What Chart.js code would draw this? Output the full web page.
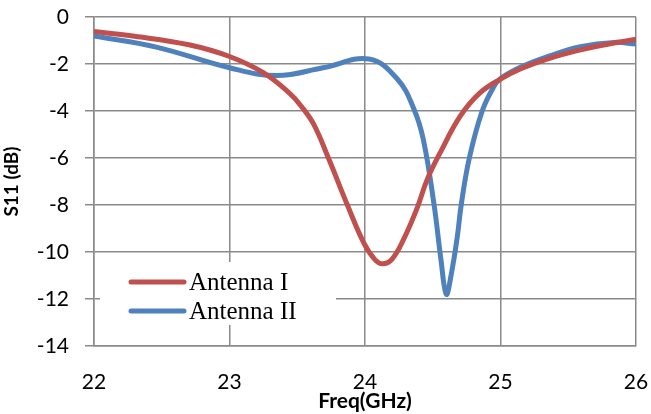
<!DOCTYPE html>
<html>
<head>
<meta charset="utf-8">
<script src="https://cdn.jsdelivr.net/npm/chart.js@4.4.1/dist/chart.umd.min.js"></script>
<style>
    html, body { margin: 0; padding: 0; background: #fff; }
    #chartS11 { display: block; }
</style>
</head>
<body>
<canvas id="chartS11" width="651" height="414"></canvas>
<script>
// ===== DATOS =====
const freqAntenaI = [22.0, 22.3, 22.7, 23.0, 23.25, 23.45, 23.53, 23.62, 23.73, 23.87, 23.99, 24.07, 24.13, 24.2, 24.29, 24.38, 24.46, 24.557, 24.705, 24.85, 25.0, 25.15, 25.35, 25.59, 25.8, 26.0];
const s11AntenaI  = [-0.62, -0.82, -1.18, -1.68, -2.37, -3.28, -3.8, -4.55, -6.0, -8.0, -9.6, -10.3, -10.5, -10.3, -9.4, -8.2, -6.9, -5.75, -4.2, -3.22, -2.64, -2.2, -1.78, -1.4, -1.15, -0.95];

const freqAntenaII = [22.0, 22.46, 23.0, 23.35, 23.69, 24.03, 24.24, 24.36, 24.43, 24.51, 24.56, 24.6, 24.635, 24.68, 24.71, 24.77, 24.865, 24.95, 25.0, 25.15, 25.35, 25.59, 25.84, 26.0];
const s11AntenaII  = [-0.81, -1.28, -2.16, -2.49, -2.16, -1.79, -2.65, -3.9, -5.2, -8.0, -10.3, -11.8, -11.0, -9.4, -8.0, -6.0, -4.0, -2.97, -2.62, -2.13, -1.68, -1.26, -1.08, -1.15];

const xTicks = [22, 23, 24, 25, 26];
const yTicks = [0, -2, -4, -6, -8, -10, -12, -14];
const nombresSeries = ['Antenna I', 'Antenna II'];

const gris = '#8a8a8a';

function puntos(xs, ys) {
    return xs.map((x, i) => ({ x: x, y: ys[i] }));
}

// ===== LEYENDA DENTRO DEL GRÁFICO =====
const leyendaInterna = {
    id: 'leyendaInterna',
    afterDraw(chart) {
        const ctx = chart.ctx;
        ctx.save();
        ctx.fillStyle = '#fff';
        ctx.fillRect(100, 262, 236, 63);
        ctx.font = '25px "Liberation Serif", "Times New Roman", serif';
        ctx.textBaseline = 'middle';
        chart.data.datasets.forEach((ds, i) => {
            const y = 282 + i * 29;
            ctx.strokeStyle = ds.borderColor;
            ctx.lineWidth = 5;
            ctx.lineCap = 'round';
            ctx.beginPath();
            ctx.moveTo(131, y);
            ctx.lineTo(184, y);
            ctx.stroke();
            ctx.fillStyle = '#000';
            ctx.fillText(ds.label, 189, y + 1);
        });
        ctx.restore();
    }
};

// ===== GRÁFICO =====
const ctx = document.getElementById('chartS11').getContext('2d');
new Chart(ctx, {
    type: 'line',
    data: {
        datasets: [{
            label: nombresSeries[0],
            data: puntos(freqAntenaI, s11AntenaI),
            borderColor: '#c0504d',
            borderWidth: 5,
            pointRadius: 0,
            tension: 0.4
        }, {
            label: nombresSeries[1],
            data: puntos(freqAntenaII, s11AntenaII),
            borderColor: '#4f81bd',
            borderWidth: 5,
            pointRadius: 0,
            tension: 0.4
        }]
    },
    options: {
        responsive: false,
        animation: false,
        layout: { padding: { top: 17, right: 15, left: 0, bottom: 0 } },
        plugins: {
            legend: { display: false },
            tooltip: { enabled: false }
        },
        scales: {
            x: {
                type: 'linear',
                min: 22,
                max: 26,
                afterBuildTicks: s => { s.ticks = xTicks.map(v => ({ value: v })); },
                afterFit: s => {
                    s.height = 68;
                    s.paddingLeft = 0;
                    s.paddingRight = 0;
                },
                grid: { color: gris, lineWidth: 1.5, drawTicks: false },
                border: { color: gris, width: 1.5 },
                ticks: {
                    padding: 24,
                    color: '#000',
                    font: { family: 'Lato', size: 21 },
                    maxRotation: 0
                },
                title: {
                    display: true,
                    text: 'Freq(GHz)',
                    color: '#000',
                    font: { family: 'Lato', size: 21, weight: 'bold' },
                    padding: { top: -4, bottom: 0 }
                }
            },
            y: {
                min: -14,
                max: 0,
                afterBuildTicks: s => { s.ticks = yTicks.map(v => ({ value: v })); },
                afterFit: s => {
                    s.width = 94;
                    s.paddingTop = 0;
                    s.paddingBottom = 0;
                },
                grid: { color: gris, lineWidth: 1.5, drawTicks: true, tickLength: 9 },
                border: { color: gris, width: 1.5 },
                ticks: {
                    padding: 16,
                    color: '#000',
                    font: { family: 'Lato', size: 21 }
                },
                title: {
                    display: true,
                    text: 'S11 (dB)',
                    color: '#000',
                    font: { family: 'Lato', size: 19, weight: 'bold' },
                    padding: { top: 0, bottom: 0 }
                }
            }
        }
    },
    plugins: [leyendaInterna]
});
</script>
</body>
</html>
